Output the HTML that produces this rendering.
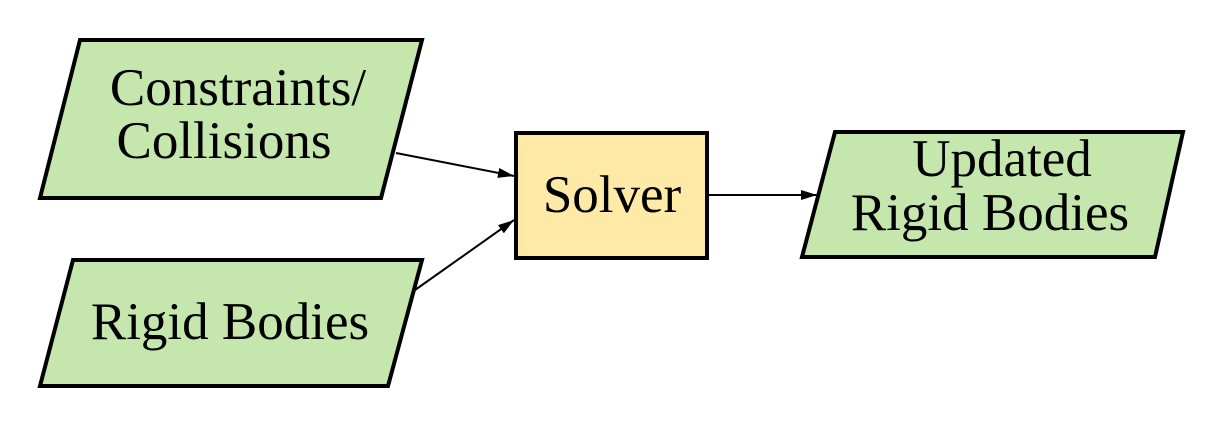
<!DOCTYPE html>
<html><head><meta charset="utf-8"><style>body{margin:0;background:#fff} text{font-family:"Liberation Serif","Times New Roman",serif}</style></head><body>
<svg width="1224" height="428" viewBox="0 0 1224 428" xmlns="http://www.w3.org/2000/svg">
<defs>
<marker id="b" viewBox="0 0 16 10" markerWidth="16" markerHeight="10" refX="16" refY="5" orient="auto" markerUnits="userSpaceOnUse"><path d="M0,0 L16,5 L0,10 z" fill="#000"/></marker></defs>
<g stroke="#000" stroke-width="4" stroke-linejoin="miter">
<polygon points="80,40 422,40 381,198 40,198" fill="#c5e6ad"/>
<polygon points="73,260 422,260 388,386 40,386" fill="#c5e6ad"/>
<polygon points="835,132 1183,132 1155,257 802,257" fill="#c5e6ad"/>
<rect x="516" y="133" width="191" height="125" fill="#ffe9a6"/>
</g>
<g stroke="#000" stroke-width="2" fill="none">
<line x1="396" y1="153" x2="514" y2="176" marker-end="url(#b)"/>
<line x1="415" y1="290" x2="514" y2="220" marker-end="url(#b)"/>
<line x1="707" y1="195" x2="817" y2="195" marker-end="url(#b)"/>
</g>
<g font-size="53" text-anchor="middle" fill="#000">
<text x="238" y="105">Constraints/</text>
<text x="224" y="158">Collisions</text>
<text x="230" y="339">Rigid Bodies</text>
<text x="612" y="212">Solver</text>
<text x="1002" y="176">Updated</text>
<text x="990" y="230">Rigid Bodies</text>
</g>
</svg>
</body></html>
